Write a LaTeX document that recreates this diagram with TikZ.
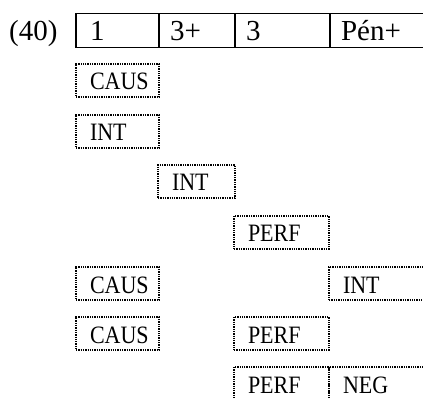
\documentclass[tikz,border=0pt]{standalone}
\usepackage{fontspec}
\setmainfont{Liberation Serif}
\newfontfamily\glossfont[FakeStretch=0.88]{Liberation Serif}
\usetikzlibrary{positioning}
\newcommand{\bigsize}{\fontsize{29pt}{34pt}\selectfont}
\newcommand{\smallsize}{\glossfont\fontsize{25pt}{28pt}\selectfont}
\newcommand{\pad}{14pt}
\tikzstyle{cell}=[draw, line width=1.8pt, rectangle, anchor=north west, outer sep=0,
                  inner sep=0, minimum height=34pt, text height=20.5pt, text depth=0pt,
                  align=left, font=\bigsize, execute at begin node={\hspace*{11pt}}]
\tikzstyle{slot}=[draw, densely dotted, line width=1.3pt, rectangle, anchor=north west, outer sep=0,
                  inner sep=0, minimum height=33pt, text height=19pt, text depth=0pt,
                  align=left, font=\smallsize, execute at begin node={\hspace*{\pad}}]

\begin{document}
\begin{tikzpicture}[x=1pt, y=-1pt]
    \useasboundingbox (0,0) rectangle (423,398);
    \clip (0,0) rectangle (423,398);
    \node[anchor=base west, inner sep=0, font=\bigsize] (ex) at (9,40.7) {(40)};
    % template
    \node[cell, text width=83pt, execute at begin node={\hspace*{3pt}}] (c1) at (76,13.5) {1};
    \node[cell, text width=76pt] (c2) at (c1.north east) {3+};
    \node[cell, text width=95pt] (c3) at (c2.north east) {3};
    \node[cell, text width=110pt] (c4) at (c3.north east) {Pén+};
    % morphemes
    \node[slot, text width=83pt] (caus1) at (76,64) {CAUS};
    \node[slot, text width=83pt] (int1) at (76,115) {INT};
    \node[slot, text width=77pt] (int2) at (158,165) {INT};
    \node[slot, text width=95pt] (perf1) at (234,216) {PERF};
    \node[slot, text width=83pt] (caus2) at (76,267) {CAUS};
    \node[slot, text width=110pt] (int3) at (329,267) {INT};
    \node[slot, text width=83pt] (caus3) at (76,317) {CAUS};
    \node[slot, text width=95pt] (perf2) at (234,317) {PERF};
    \node[slot, text width=95pt] (perf3) at (234,367) {PERF};
    \node[slot, text width=110pt] (neg) at (perf3.north east) {NEG};
\end{tikzpicture}
\end{document}
